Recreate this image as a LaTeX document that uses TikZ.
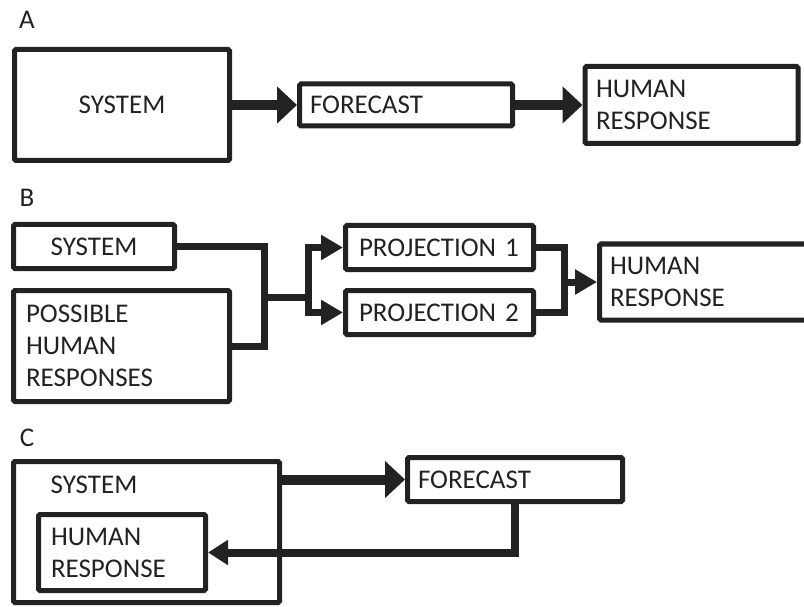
\documentclass[tikz,border=0pt]{standalone}
\usepackage{fontspec}
\setmainfont{Carlito}
\usetikzlibrary{arrows.meta}
\definecolor{ink}{HTML}{222222}
\begin{document}
\begin{tikzpicture}[x=1pt,y=-1pt,
  box/.style={draw=ink,line width=5pt,rounded corners=1.5pt,font=\fontsize{27}{32}\selectfont,text=ink,inner sep=0pt},
  lbox/.style={box,align=left},
  conn/.style={draw=ink,line width=7pt},
  big/.style={-{Triangle[length=20pt,width=36pt]},line width=10pt,draw=ink},
  small/.style={-{Triangle[length=22pt,width=24pt]},line width=7pt,draw=ink},
  lab/.style={font=\fontsize{27}{32}\selectfont,text=ink}]
\useasboundingbox (0,0) rectangle (804,607);
\clip (0,0) rectangle (804,607);
% ---------- A
\node[lab] (la) at (27,20) {A};
\node[box,minimum width=215pt,minimum height=111pt] (sysA) at (122,105) {SYSTEM};
\node[lbox,minimum width=213pt,minimum height=42pt,text width=192pt] (fcA) at (406,105) {FORECAST};
\node[lbox,minimum width=213pt,minimum height=77pt,text width=191pt] (hrA) at (691.5,105) {HUMAN\\RESPONSE};
\draw[big] (sysA.east) -- (fcA.west);
\draw[big] (fcA.east) -- (hrA.west);
% ---------- B
\node[lab] (lb) at (27,198) {B};
\node[box,minimum width=161pt,minimum height=44pt] (sysB) at (94,246.5) {SYSTEM};
\node[lbox,minimum width=216pt,minimum height=111pt,text width=191pt] (posB) at (121.5,346) {POSSIBLE\\HUMAN\\RESPONSES};
\node[lbox,minimum width=188pt,minimum height=44pt,text width=161pt] (p1) at (439.5,247.5) {PROJECTION 1};
\node[lbox,minimum width=188pt,minimum height=44pt,text width=161pt] (p2) at (439.5,312.5) {PROJECTION 2};
\node[lbox,minimum width=260pt,minimum height=76pt,text width=239pt] (hrB) at (729.5,282) {HUMAN\\RESPONSE};
\coordinate (jB) at (264,297);
\coordinate (sB) at (308,297);
\coordinate (jR) at (564,282);
\draw[conn] (sysB.east) -| (jB) |- (posB.east);
\draw[conn] (jB) -- (sB);
\draw[small] (sB) |- (p1.west);
\draw[small] (sB) |- (p2.west);
\draw[conn] (p1.east) -| (jR) |- (p2.east);
\draw[small] (jR) -- (hrB.west);
% ---------- C
\node[lab] (lc) at (27,438) {C};
\node[box,minimum width=266pt,minimum height=141pt] (sysC) at (146.5,532) {};
\node[lab] (sysCt) at (94,485) {SYSTEM};
\node[lbox,minimum width=167pt,minimum height=76pt,text width=142pt] (hrC) at (122,552.5) {HUMAN\\RESPONSE};
\node[lbox,minimum width=215pt,minimum height=44pt,text width=194pt] (fcC) at (515,479.5) {FORECAST};
\draw[big] (sysC.east |- fcC.west) -- (fcC.west);
\draw[draw=ink,line width=8pt,-{Triangle[length=20pt,width=24pt]}] (fcC.south) |- (hrC.east);
\end{tikzpicture}
\end{document}
